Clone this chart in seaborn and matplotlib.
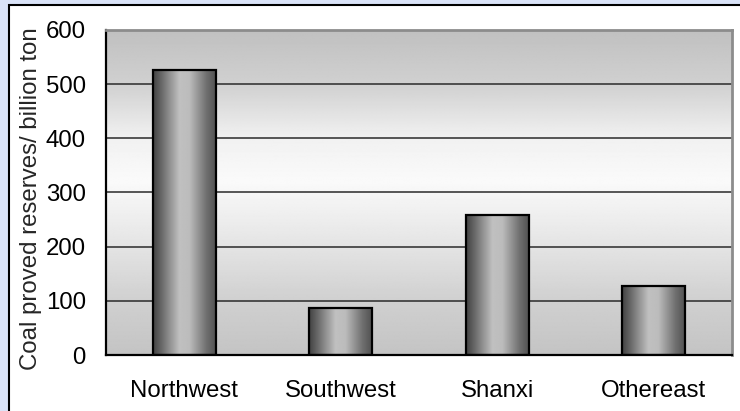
import numpy as np
import pandas as pd
import matplotlib
matplotlib.use("Agg")
import matplotlib.pyplot as plt
import matplotlib.patches as mpatches
from matplotlib.ticker import FixedLocator
import seaborn as sns

# Proved coal reserves by region (billion ton)
regions = ["Northwest", "Southwest", "Shanxi", "Othereast"]
reserves = [526, 87, 259, 128]
y_ticks = [0, 100, 200, 300, 400, 500, 600]
y_label = "Coal proved reserves/ billion ton"

df = pd.DataFrame({"region": regions, "reserves": reserves})

sns.set_style("white")
plt.rcParams["font.family"] = ["Liberation Sans", "DejaVu Sans"]
FS = 17.3

W, H, DPI = 740, 411, 100
fig = plt.figure(figsize=(W / DPI, H / DPI), dpi=DPI, facecolor="#dae3f8")

# white chart panel with a black frame, kept behind the axes
panel = mpatches.Rectangle((9 / W, 1 - 5 / H), 1.2, -1.2, transform=fig.transFigure,
                           facecolor="white", edgecolor="black", lw=1.5, zorder=-10)
fig.patches.append(panel)

left, right, top, bottom = 106, 732, 30, 355
ax = fig.add_axes([left / W, 1 - bottom / H, (right - left) / W, (bottom - top) / H])
ax.set_zorder(1)

sns.barplot(data=df, x="region", y="reserves", width=0.4, ax=ax,
            color="#999999", edgecolor="black", linewidth=1.6, zorder=3)

ax.set_xlim(-0.5, len(regions) - 0.5)
ax.set_ylim(0, 600)

# vertical grey-white-grey plot area background
yy = np.linspace(0, 600, 300)
bg_vals = np.interp(yy, [0, 100, 200, 320, 400, 500, 600],
                    [196, 208, 228, 250, 241, 208, 192]) / 255.0
bg = np.repeat(bg_vals[::-1, None], 2, axis=1)
ax.imshow(bg, cmap="gray", vmin=0, vmax=1, extent=[-0.5, 3.5, 0, 600],
          aspect="auto", zorder=0, interpolation="bilinear")

for yv in y_ticks[1:-1]:
    ax.axhline(yv, color="#2a2a2a", lw=1.1, zorder=1)

# cylinder-like horizontal shading inside each bar
xs = np.linspace(0, 1, 200)
bar_vals = np.interp(xs, [0, 0.12, 0.42, 0.58, 0.85, 1.0],
                     [66, 100, 192, 188, 112, 82]) / 255.0
shade = bar_vals[None, :]
for bar in ax.patches:
    x0, w, h = bar.get_x(), bar.get_width(), bar.get_height()
    im = ax.imshow(shade, cmap="gray", vmin=0, vmax=1, extent=[x0, x0 + w, 0, h],
                   aspect="auto", zorder=2, interpolation="bilinear")
    im.set_clip_path(bar)
    bar.set_facecolor("none")

ax.set_xlim(-0.5, len(regions) - 0.5)
ax.set_ylim(0, 600)

ax.set_yticks(y_ticks)
ax.tick_params(axis="y", length=0, pad=14.5, labelsize=FS, colors="black")
ax.tick_params(axis="x", which="major", length=0, pad=18, labelsize=FS, colors="black")
ax.xaxis.set_minor_locator(FixedLocator([0.5, 1.5, 2.5]))
ax.tick_params(axis="x", which="minor", direction="in", length=5.5, width=1.1,
               color="#222222")
ax.set_xlabel("")
ax.set_ylabel(y_label, fontsize=FS)
ax.yaxis.set_label_coords(-0.102, 0.482)

for side in ["left", "bottom"]:
    ax.spines[side].set_color("black")
    ax.spines[side].set_linewidth(1.6)
for side in ["top", "right"]:
    ax.spines[side].set_visible(True)
    ax.spines[side].set_color("#8c8c8c")
    ax.spines[side].set_linewidth(2)

fig.savefig("out.png", dpi=DPI, facecolor=fig.get_facecolor())
